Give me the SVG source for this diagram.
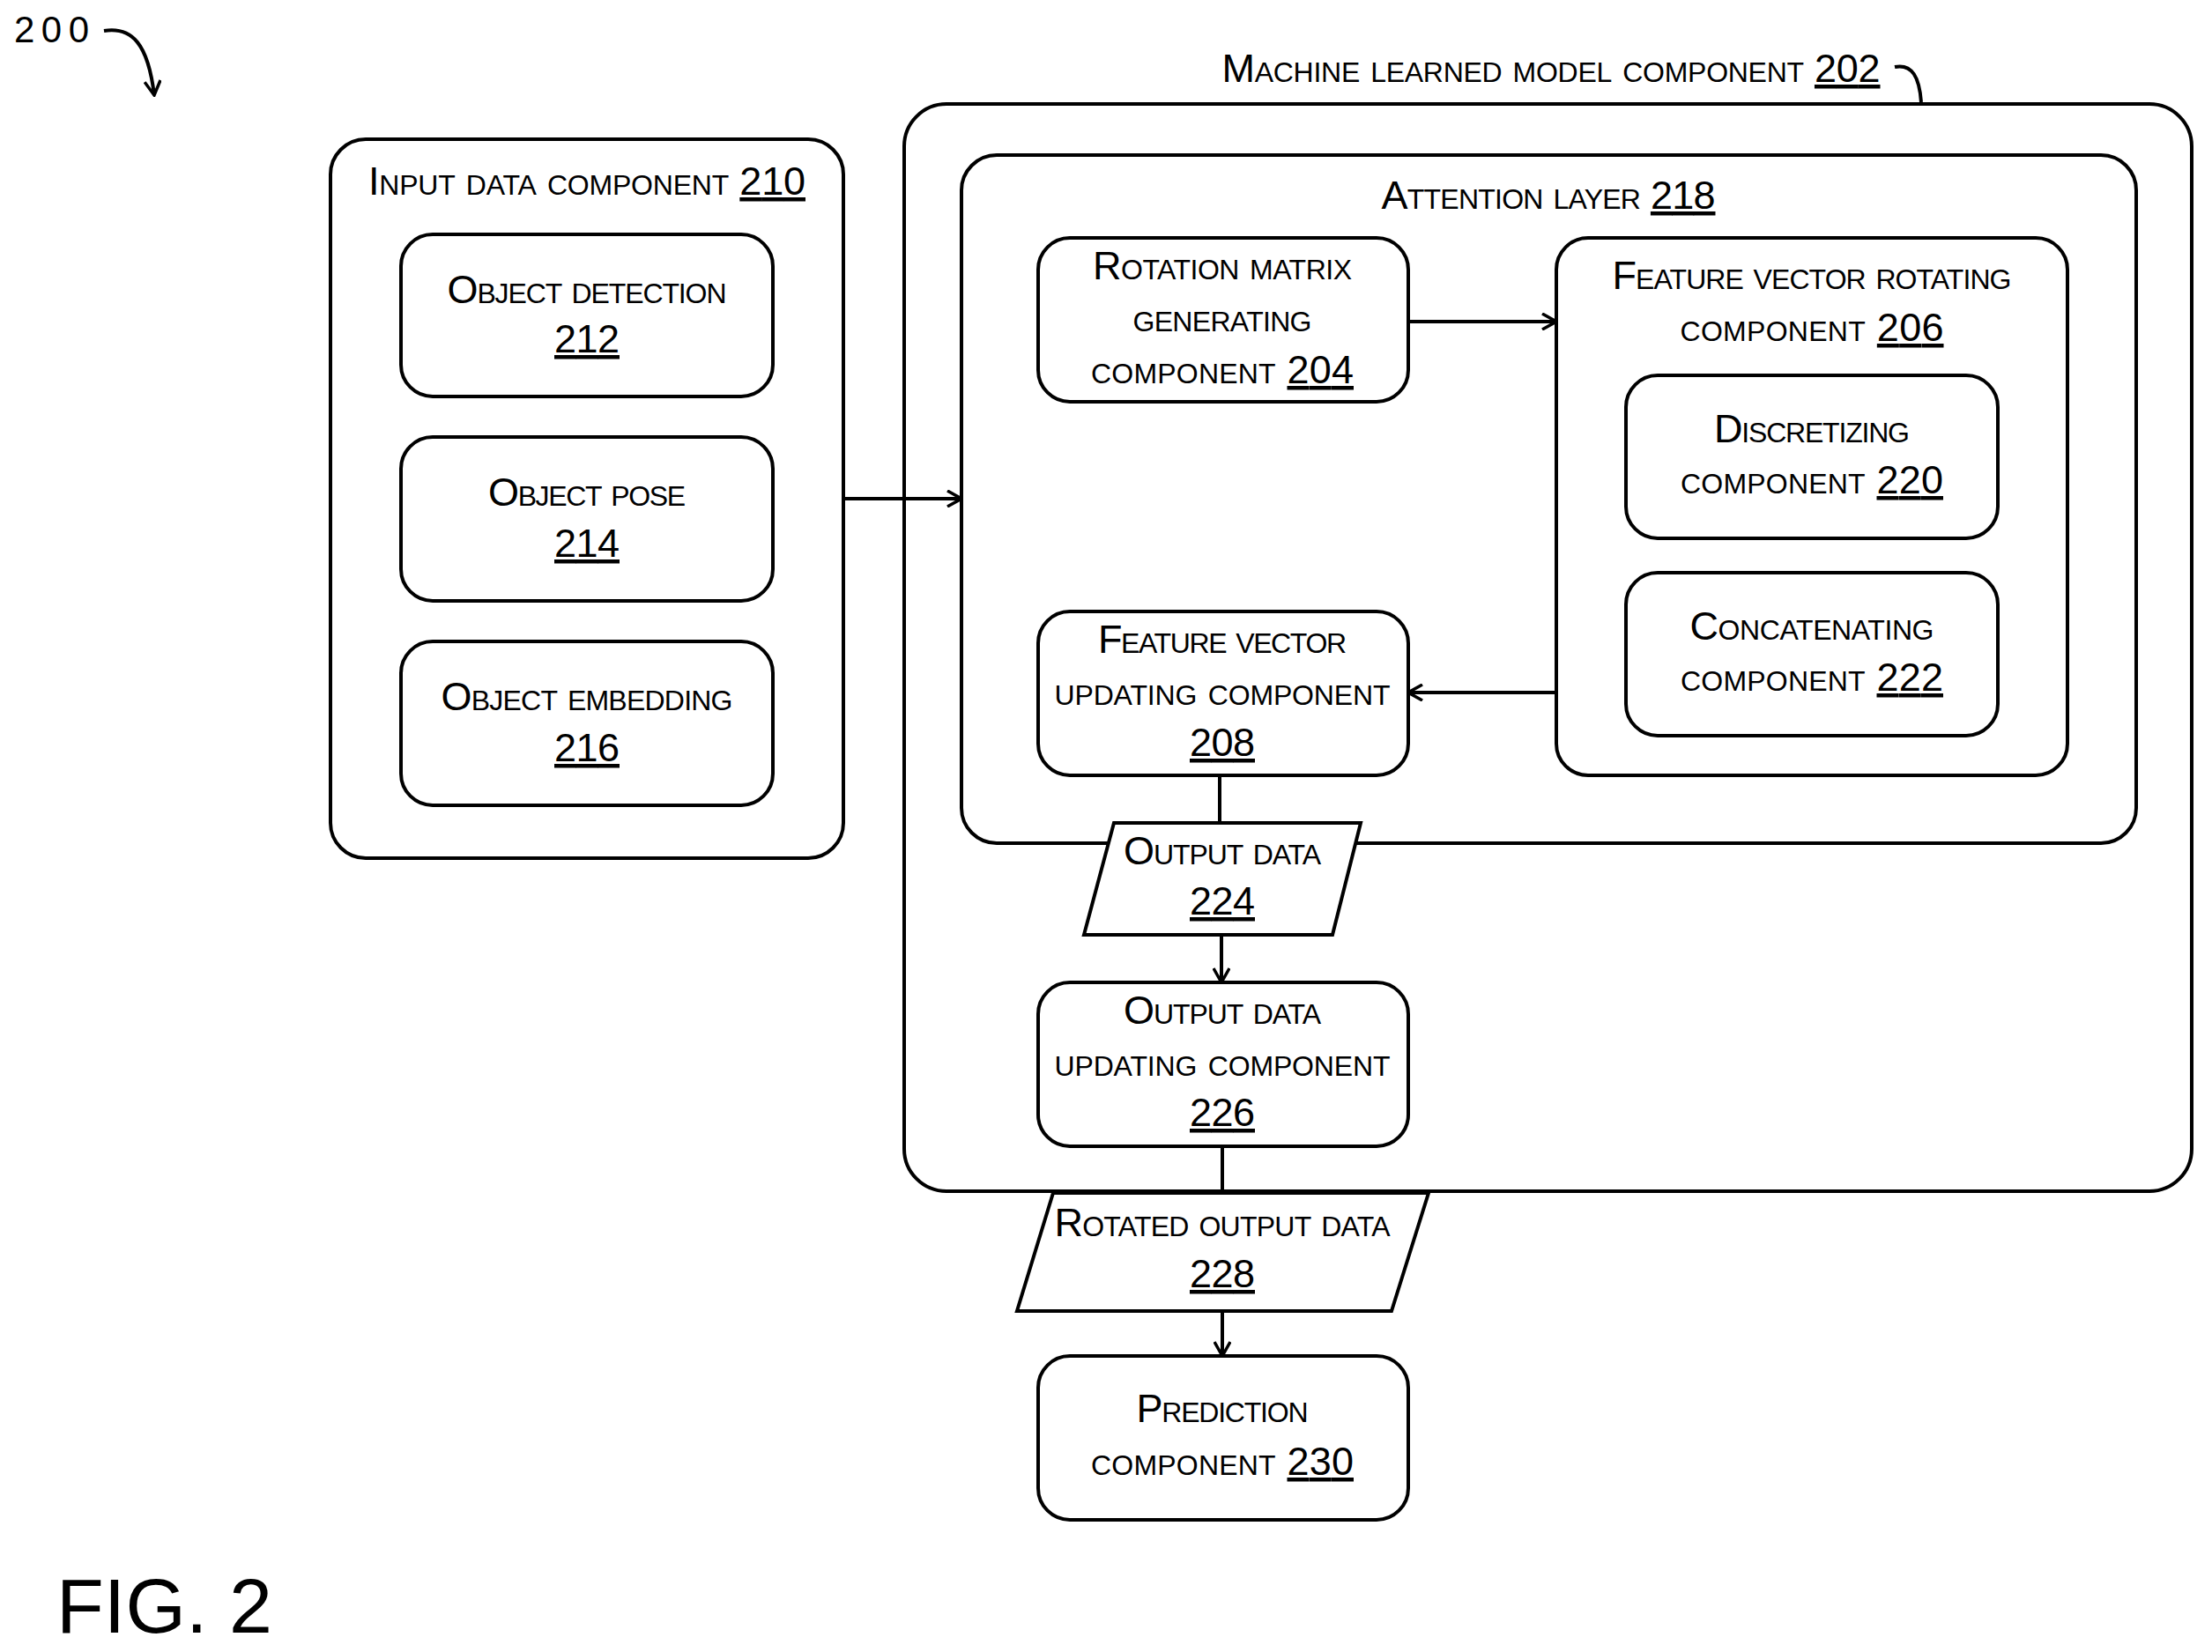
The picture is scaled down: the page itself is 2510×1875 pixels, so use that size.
<svg xmlns="http://www.w3.org/2000/svg" width="2510" height="1875" viewBox="0 0 2510 1875">
<style>
.b{fill:#fff;stroke:#000;stroke-width:4}
.l{fill:none;stroke:#000;stroke-width:4}
text{font-family:"Liberation Sans",Arial,sans-serif;font-size:45px;font-variant:small-caps;text-anchor:middle;fill:#000}
.u{text-decoration:underline}
</style>
<defs><marker id="a" markerWidth="20" markerHeight="20" refX="18" refY="10" orient="auto" markerUnits="userSpaceOnUse"><path d="M2,1 L18,10 L2,19" fill="none" stroke="#000" stroke-width="3.5"/></marker></defs>
<rect width="2510" height="1875" fill="#fff"/>
<text x="16" y="48" style="text-anchor:start;font-variant:normal;font-size:42px" textLength="85">200</text>
<path class="l" d="M118,35 C150,30 168,50 175,108" marker-end="url(#a)"/>
<text x="64" y="1853" style="text-anchor:start;font-variant:normal;font-size:88px" textLength="245">FIG. 2</text>
<g id="n202"><rect class="b" x="1026" y="118" width="1461" height="1234" rx="48"/>
<text x="1760" y="93" textLength="747">Machine learned model component <tspan class="u">202</tspan></text>
<path class="l" d="M2150,76 C2170,72 2178,88 2180,116"/></g>
<g id="n210"><rect class="b" x="375" y="158" width="582" height="816" rx="40"/>
<text x="666" y="221" textLength="496">Input data component <tspan class="u">210</tspan></text></g>
<g id="n212"><rect class="b" x="455" y="266" width="422" height="184" rx="36"/><text x="666" y="344" textLength="317">Object detection</text><text x="666" y="400" class="u" textLength="74">212</text></g>
<g id="n214"><rect class="b" x="455" y="496" width="422" height="186" rx="36"/><text x="666" y="574" textLength="224">Object pose</text><text x="666" y="632" class="u" textLength="74">214</text></g>
<g id="n216"><rect class="b" x="455" y="728" width="422" height="186" rx="36"/><text x="666" y="806" textLength="331">Object embedding</text><text x="666" y="864" class="u" textLength="74">216</text></g>
<g id="n218"><rect class="b" x="1091" y="176" width="1333" height="781" rx="40"/>
<text x="1757" y="237" textLength="379">Attention layer <tspan class="u">218</tspan></text></g>
<g id="n204"><rect class="b" x="1178" y="270" width="420" height="186" rx="36"/><text x="1387" y="317" textLength="294">Rotation matrix</text><text x="1387" y="376" textLength="203">generating</text><text x="1387" y="435" textLength="298">component <tspan class="u">204</tspan></text></g>
<g id="n206"><rect class="b" x="1766" y="270" width="580" height="610" rx="36"/><text x="2056" y="328" textLength="453">Feature vector rotating</text><text x="2056" y="387" textLength="299">component <tspan class="u">206</tspan></text></g>
<g id="n220"><rect class="b" x="1845" y="426" width="422" height="185" rx="36"/><text x="2056" y="502" textLength="222">Discretizing</text><text x="2056" y="560" textLength="298">component <tspan class="u">220</tspan></text></g>
<g id="n222"><rect class="b" x="1845" y="650" width="422" height="185" rx="36"/><text x="2056" y="726" textLength="277">Concatenating</text><text x="2056" y="784" textLength="298">component <tspan class="u">222</tspan></text></g>
<g id="n208"><rect class="b" x="1178" y="694" width="420" height="186" rx="36"/><text x="1387" y="741" textLength="282">Feature vector</text><text x="1387" y="800" textLength="381">updating component</text><text x="1387" y="858" class="u" textLength="74">208</text></g>
<g id="n224"><polygon class="b" points="1264,934 1544,934 1512,1061 1230,1061"/><text x="1387" y="981" textLength="224">Output data</text><text x="1387" y="1038" class="u" textLength="74">224</text></g>
<g id="n226"><rect class="b" x="1178" y="1115" width="420" height="186" rx="36"/><text x="1387" y="1162" textLength="224">Output data</text><text x="1387" y="1221" textLength="381">updating component</text><text x="1387" y="1278" class="u" textLength="74">226</text></g>
<g id="n228"><polygon class="b" points="1195,1354 1621,1354 1579,1488 1154,1488"/><text x="1387" y="1403" textLength="381">Rotated output data</text><text x="1387" y="1461" class="u" textLength="74">228</text></g>
<g id="n230"><rect class="b" x="1178" y="1539" width="420" height="186" rx="36"/><text x="1387" y="1614" textLength="195">Prediction</text><text x="1387" y="1674" textLength="298">component <tspan class="u">230</tspan></text></g>
<g id="connectors" class="l">
<line x1="957" y1="566" x2="1091" y2="566" marker-end="url(#a)"/>
<line x1="1598" y1="365" x2="1766" y2="365" marker-end="url(#a)"/>
<line x1="1766" y1="786" x2="1598" y2="786" marker-end="url(#a)"/>
<line x1="1384" y1="880" x2="1384" y2="934"/>
<line x1="1386" y1="1061" x2="1386" y2="1115" marker-end="url(#a)"/>
<line x1="1387" y1="1301" x2="1387" y2="1354"/>
<line x1="1387" y1="1488" x2="1387" y2="1539" marker-end="url(#a)"/>
</g>
</svg>
